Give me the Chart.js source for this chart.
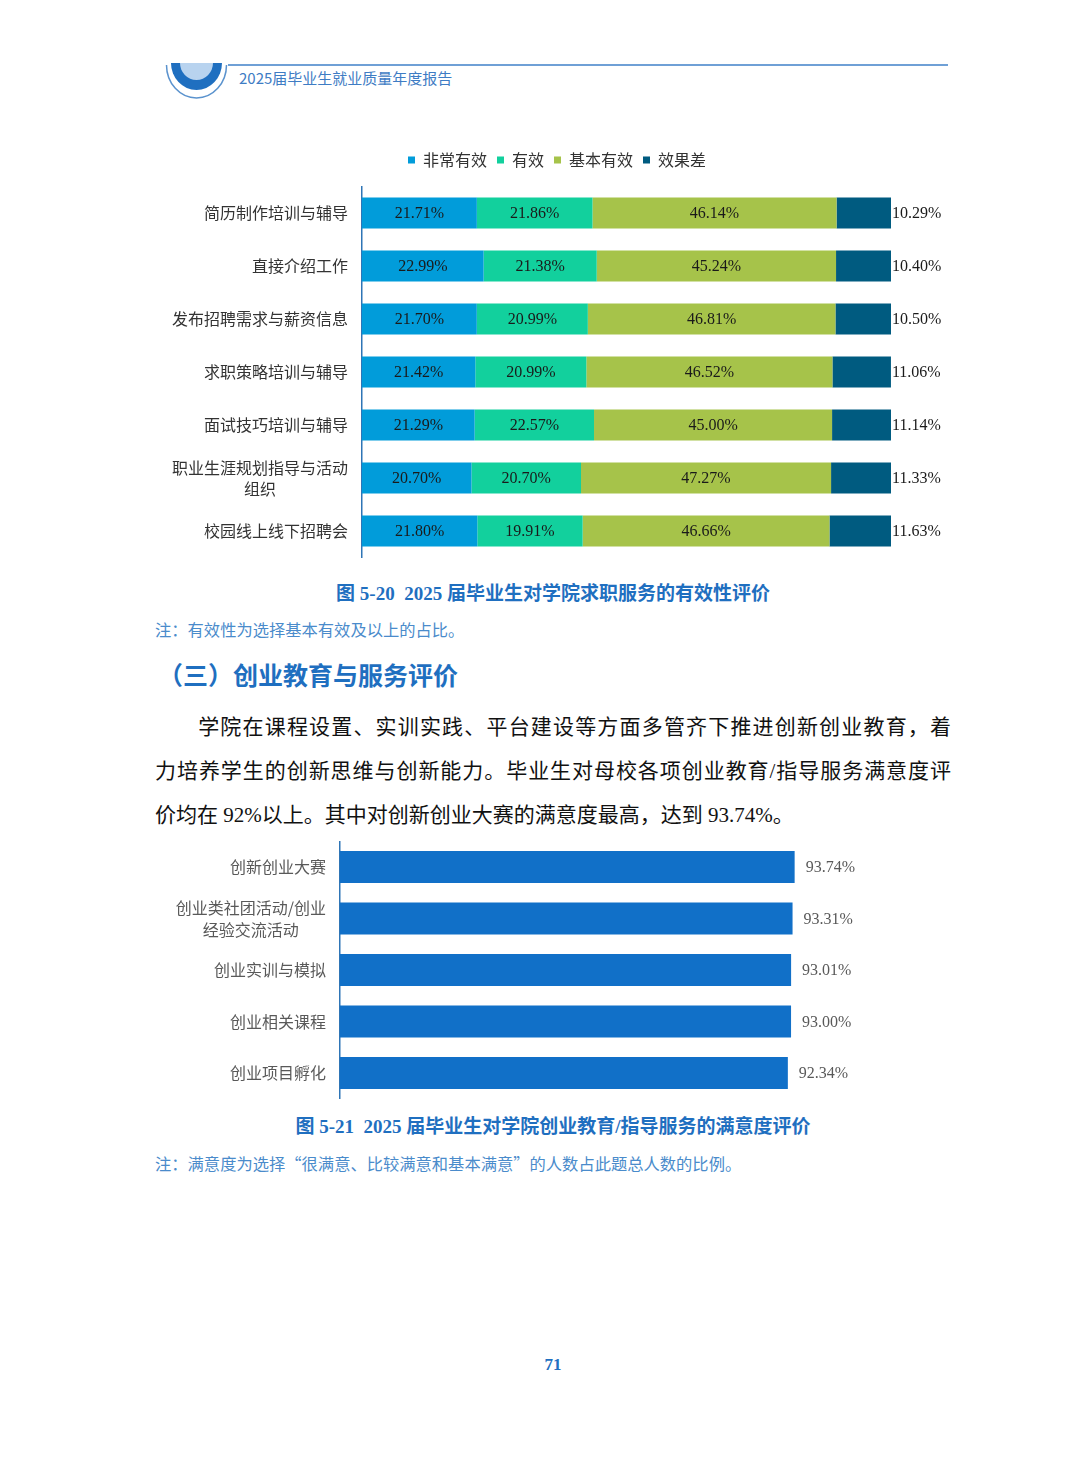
<!DOCTYPE html>
<html><head><meta charset="utf-8">
<script src="https://cdn.jsdelivr.net/npm/chart.js@4.4.1/dist/chart.umd.min.js"></script>
<style>
html,body{margin:0;padding:0;background:#fff;}
#page{position:relative;width:1080px;height:1465px;overflow:hidden;background:#fff;font-family:"Liberation Serif","Noto Sans CJK SC",serif;}
.abs{position:absolute;}
#hdrtext{left:239px;top:68px;font-family:"Noto Sans CJK SC",sans-serif;font-size:15px;color:#3E7CC4;line-height:20px;}
#hdrline{left:228px;top:64px;width:720px;height:2px;background:#6FA0D6;}
.cap{left:0;width:1106px;text-align:center;font-family:"Liberation Serif","Noto Sans CJK SC",serif;font-weight:bold;color:#1F6FC0;font-size:19px;line-height:24px;}
.note{left:155px;font-family:"Liberation Serif","Noto Sans CJK SC",serif;color:#4A8BCB;font-size:16.3px;line-height:20px;white-space:nowrap;}
.cjk{font-family:"Noto Sans CJK SC",sans-serif;}
#heading{left:158px;top:658px;font-family:"Noto Sans CJK SC",sans-serif;font-weight:bold;color:#1F6FC0;font-size:25px;line-height:32px;}
#para{left:155px;top:705px;width:796px;font-family:"Liberation Serif","Noto Sans CJK SC",serif;font-size:21px;color:#111;}
#para div{height:44px;line-height:44px;text-align:justify;text-align-last:justify;white-space:nowrap;}
#para div.last{text-align-last:left;}
#pnum{left:0;width:1106px;top:1355px;text-align:center;font-weight:bold;color:#1F6FC0;font-size:17px;font-family:"Liberation Serif",serif;}
#c1wrap{left:160px;top:140px;width:800px;height:420px;}
#c2wrap{left:150px;top:835px;width:750px;height:270px;}
</style></head>
<body><div id="page">
<svg class="abs" style="left:160px;top:55px" width="80" height="50" viewBox="0 0 80 50">
  <path d="M6.5 10 A 30 33 0 0 0 66.5 10" fill="none" stroke="#5B93CE" stroke-width="1.5"/>
  <path d="M11 8 A 25.5 27 0 0 0 62 8 Z" fill="#1F6FC0"/>
  <path d="M20 8 A 16.5 17 0 0 0 53 8 Z" fill="#B8D3EF"/>
</svg>
<div id="hdrline" class="abs"></div>
<div id="hdrtext" class="abs">2025届毕业生就业质量年度报告</div>

<div id="c1wrap" class="abs"><canvas id="c1" width="800" height="420"></canvas></div>
<div class="abs cap" style="top:582px">图 5-20&nbsp;&nbsp;2025 届毕业生对学院求职服务的有效性评价</div>
<div class="abs note" style="top:621px">注：有效性为选择基本有效及以上的占比。</div>
<div id="heading" class="abs">（三）创业教育与服务评价</div>
<div id="para" class="abs">
<div>&emsp;&emsp;学院在课程设置、实训实践、平台建设等方面多管齐下推进创新创业教育，着</div>
<div>力培养学生的创新思维与创新能力。毕业生对母校各项创业教育/指导服务满意度评</div>
<div class="last">价均在 92%以上。其中对创新创业大赛的满意度最高，达到 93.74%。</div>
</div>
<div id="c2wrap" class="abs"><canvas id="c2" width="750" height="270"></canvas></div>
<div class="abs cap" style="top:1115px">图 5-21&nbsp;&nbsp;2025 届毕业生对学院创业教育/指导服务的满意度评价</div>
<div class="abs note" style="top:1153px">注：满意度为选择<span class="cjk">“</span>很满意、比较满意和基本满意<span class="cjk">”</span>的人数占此题总人数的比例。</div>
<div id="pnum" class="abs">71</div>
</div>
<script>
// ---- Chart 1 data ----
const categories1 = ['简历制作培训与辅导','直接介绍工作','发布招聘需求与薪资信息','求职策略培训与辅导','面试技巧培训与辅导',['职业生涯规划指导与活动','组织'],'校园线上线下招聘会'];
const seriesNames1 = ['非常有效','有效','基本有效','效果差'];
const veryEffective = [21.71,22.99,21.70,21.42,21.29,20.70,21.80];
const effective = [21.86,21.38,20.99,20.99,22.57,20.70,19.91];
const basicEffective = [46.14,45.24,46.81,46.52,45.00,47.27,46.66];
const poorEffect = [10.29,10.40,10.50,11.06,11.14,11.33,11.63];
// ---- Chart 2 data ----
const categories2 = ['创新创业大赛',['创业类社团活动/创业','经验交流活动'],'创业实训与模拟','创业相关课程','创业项目孵化'];
const satisfaction = [93.74,93.31,93.01,93.00,92.34];

const numFont = '16px "Liberation Serif", serif';
const cjkFont = '16px "Noto Sans CJK SC", sans-serif';

const catLabelPlugin = {
  id:'catLabels',
  afterDraw(chart){
    const o = chart.options.plugins.catLabels;
    const ctx = chart.ctx, ys = chart.scales.y;
    ctx.save();
    ctx.font = o.font; ctx.fillStyle = o.color; ctx.textBaseline='middle'; ctx.textAlign='center';
    chart.data.labels.forEach((lab,i)=>{
      const lines = Array.isArray(lab)?lab:[lab];
      const y = ys.getPixelForValue(i);
      const w = Math.max(...lines.map(l=>ctx.measureText(l).width));
      const cx = ys.right - o.gap - w/2;
      lines.forEach((ln,j)=>{
        ctx.fillText(ln, cx, y + (j-(lines.length-1)/2)*o.lineHeight);
      });
    });
    ctx.restore();
  }
};

const valueLabelPlugin = {
  id:'valLabels',
  afterDatasetsDraw(chart){
    const o = chart.options.plugins.valLabels;
    const ctx = chart.ctx;
    ctx.save();
    ctx.font = numFont; ctx.fillStyle = o.color; ctx.textBaseline='middle';
    chart.data.datasets.forEach((ds,di)=>{
      const meta = chart.getDatasetMeta(di);
      meta.data.forEach((el,i)=>{
        const txt = ds.data[i].toFixed(2)+'%';
        if (o.outside.includes(di)) {
          ctx.textAlign='left'; ctx.fillText(txt, el.x + o.offset, el.y + 1);
        } else {
          ctx.textAlign='center'; ctx.fillText(txt, (el.x+el.base)/2, el.y + 1);
        }
      });
    });
    ctx.restore();
  }
};

const legendFit = {
  id:'legendFit',
  beforeInit(chart){
    const orig = chart.legend.fit;
    chart.legend.fit = function(){ orig.bind(chart.legend)(); this.height = 44.5; };
  }
};

const colors1 = ['#019CDA','#12D09D','#A6C34A','#005B80'];
const data1 = [veryEffective, effective, basicEffective, poorEffect];

new Chart(document.getElementById('c1'), {
  type:'bar',
  data:{
    labels: categories1,
    datasets: seriesNames1.map((n,i)=>({label:n, data:data1[i], backgroundColor:colors1[i], borderWidth:0, categoryPercentage:1, barPercentage:0.585}))
  },
  options:{
    indexAxis:'y', responsive:false, animation:false,
    layout:{padding:{right:69,bottom:2.5,top:2,left:63}},
    scales:{
      x:{display:false, stacked:true, min:0, max:100},
      y:{stacked:true, grid:{display:false}, border:{display:true,color:'#2E75B6',width:1.5}, ticks:{display:false},
         afterFit(s){ s.width = 139; }}
    },
    plugins:{
      legend:{display:true, position:'top', labels:{font:{size:16,family:'"Noto Sans CJK SC", sans-serif'}, color:'#333', boxWidth:7, boxHeight:7, padding:10}},
      tooltip:{enabled:false},
      catLabels:{font:cjkFont, color:'#333', gap:14, lineHeight:21},
      valLabels:{color:'#1a1a1a', outside:[3], offset:1}
    }
  },
  plugins:[legendFit, catLabelPlugin, valueLabelPlugin]
});

new Chart(document.getElementById('c2'), {
  type:'bar',
  data:{
    labels: categories2,
    datasets:[{label:'满意度', data:satisfaction, backgroundColor:'#1170C8', borderWidth:0, categoryPercentage:1, barPercentage:0.62}]
  },
  options:{
    indexAxis:'y', responsive:false, animation:false,
    layout:{padding:{right:75,top:6.25,bottom:6.25,left:0}},
    scales:{
      x:{display:false, min:0, max:100},
      y:{grid:{display:false}, border:{display:true,color:'#2E75B6',width:1.5}, ticks:{display:false},
         afterFit(s){ s.width = 190; }}
    },
    plugins:{
      legend:{display:false},
      tooltip:{enabled:false},
      catLabels:{font:cjkFont, color:'#595959', gap:14, lineHeight:22},
      valLabels:{color:'#595959', outside:[0], offset:11}
    }
  },
  plugins:[catLabelPlugin, valueLabelPlugin]
});
</script>
</body></html>
